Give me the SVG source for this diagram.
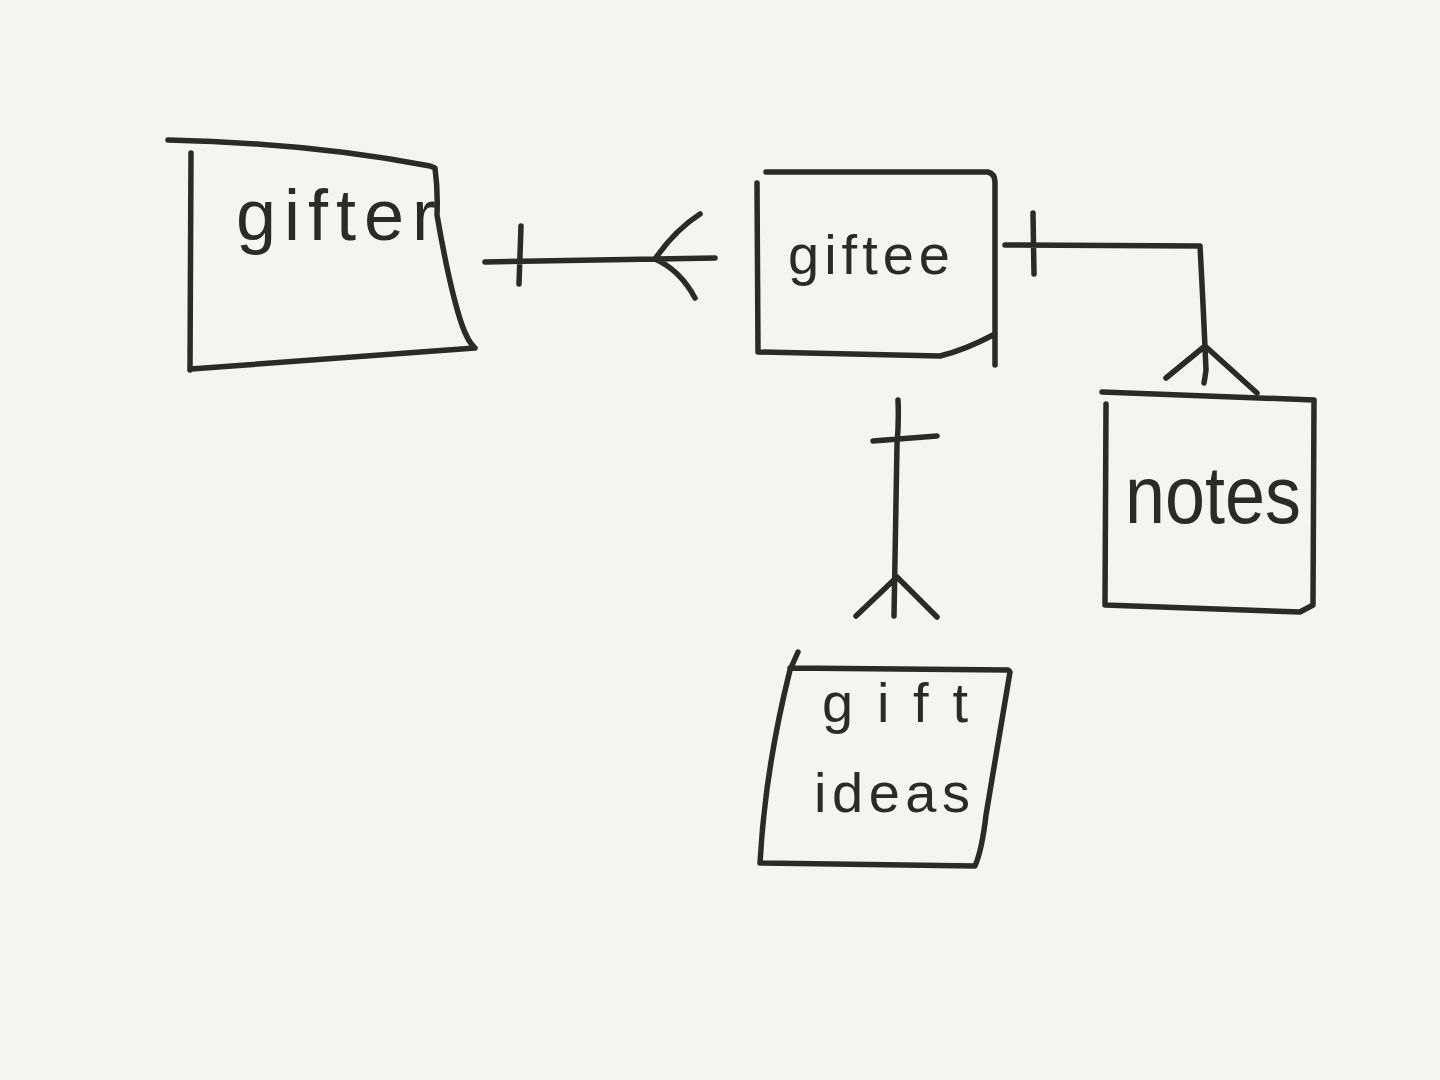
<svg xmlns="http://www.w3.org/2000/svg" width="1440" height="1080" viewBox="0 0 1440 1080">
<style>
.s{fill:none;stroke:#2b2a27;stroke-width:5.5;stroke-linecap:round;stroke-linejoin:round}
.t{font-family:"Liberation Sans","DejaVu Sans",sans-serif;fill:#2b2a27}
</style>
<rect width="1440" height="1080" fill="#f5f4f0"/>
<g id="gifter">
<path class="s" d="M168,140 Q310,143 430,166 L435,168 Q438,190 437,215 Q450,290 462,325 Q468,342 475,348 L191,369 M191,153 L190,370"/>
<text class="t" x="236" y="240" font-size="72" textLength="200" lengthAdjust="spacing">gifter</text>
</g>
<g id="giftee">
<path class="s" d="M766,172 L988,172 Q995,174 995,182 L995,365 M757,183 L758,352 L940,356 Q965,350 995,334"/>
<text class="t" x="788" y="274" font-size="56" textLength="162" lengthAdjust="spacing">giftee</text>
</g>
<g id="notes">
<path class="s" d="M1102,392 L1314,400 L1313,605 L1300,612 L1105,605 L1106,404"/>
<text class="t" x="1125" y="523" font-size="82" textLength="176" lengthAdjust="spacingAndGlyphs">notes</text>
</g>
<g id="gift-ideas">
<path class="s" d="M790,668 L1008,670 L1010,672 Q995,760 986,815 Q982,850 975,866 L760,863 Q765,770 790,670 L798,652"/>
<text class="t" x="822" y="722" font-size="56" textLength="146" lengthAdjust="spacing">gift</text>
<text class="t" x="814" y="812" font-size="56" textLength="156" lengthAdjust="spacing">ideas</text>
</g>
<g id="connectors">
<path class="s" d="M485,262 L715,258 M521,226 L519,284 M655,259 Q675,230 700,214 M655,259 Q680,270 695,298"/>
<path class="s" d="M1005,245 L1200,246 Q1203,300 1206,370 Q1205,378 1204,383 M1033,213 L1034,274 M1166,378 L1205,346 L1257,393"/>
<path class="s" d="M898,400 Q899,420 897,445 L894,616 M873,441 L937,436 M856,616 L897,577 L937,617"/>
</g>
</svg>
